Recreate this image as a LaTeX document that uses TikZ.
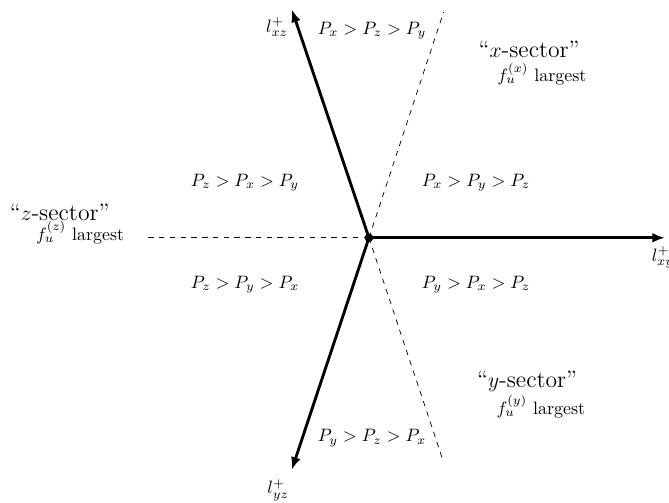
\documentclass[tikz,border=0pt]{standalone}
\usepackage{amsmath, amssymb}
\usepackage{tikz}
\usetikzlibrary{arrows.meta, positioning, calc}

\begin{document}
\begin{tikzpicture}[
    axis/.style={ultra thick, -{Latex[length=7pt, width=5.5pt]}},
    border/.style={dashed},
    order/.style={font=\normalsize},
    sectorname/.style={font=\fontsize{13.2}{15}\selectfont},
    sectorsub/.style={font=\normalsize}]
    \useasboundingbox (-7.23,-5.19) rectangle (5.88,4.66);
    % origin and the three positive half-lines
    \node[circle, fill, inner sep=1.7pt] (O) at (0,0) {};
    \coordinate (xy) at (0:5.80);
    \coordinate (xz) at (108.66:4.72);
    \coordinate (yz) at (251.6:4.79);
    % sector borders
    \coordinate (bz) at (180:4.39);
    \coordinate (bx) at (71.7:4.66);
    \coordinate (by) at (288.4:4.62);
    \draw[axis] (O.center) -- (xy);
    \draw[axis] (O.center) -- (xz);
    \draw[axis] (O.center) -- (yz);
    \draw[border] (O.center) -- (bz);
    \draw[border] (O.center) -- (bx);
    \draw[border] (O.center) -- (by);
    \node (lxy) at (5.76,-0.39) {$l^+_{xy}$};
    \node (lxz) at (-1.80,4.12) {$l^+_{xz}$};
    \node (lyz) at (-1.78,-4.94) {$l^+_{yz}$};
    % orderings
    \node[order] (o1) at (0.06,4.06) {$P_x > P_z > P_y$};
    \node[order] (o2) at (2.10,1.08) {$P_x > P_y > P_z$};
    \node[order] (o3) at (2.10,-0.92) {$P_y > P_x > P_z$};
    \node[order] (o4) at (0.06,-3.92) {$P_y > P_z > P_x$};
    \node[order] (o5) at (-2.43,-0.92) {$P_z > P_y > P_x$};
    \node[order] (o6) at (-2.43,1.08) {$P_z > P_x > P_y$};
    % sectors
    \node[sectorname] (sx) at (3.14,3.70) {``$x$-sector''};
    \node[sectorsub] (fx) at (3.39,3.21) {$f_u^{(x)}$ largest};
    \node[sectorname] (sy) at (3.10,-2.82) {``$y$-sector''};
    \node[sectorsub] (fy) at (3.37,-3.31) {$f_u^{(y)}$ largest};
    \node[sectorname] (sz) at (-6.06,0.49) {``$z$-sector''};
    \node[sectorsub] (fz) at (-5.66,0.10) {$f_u^{(z)}$ largest};
\end{tikzpicture}
\end{document}
